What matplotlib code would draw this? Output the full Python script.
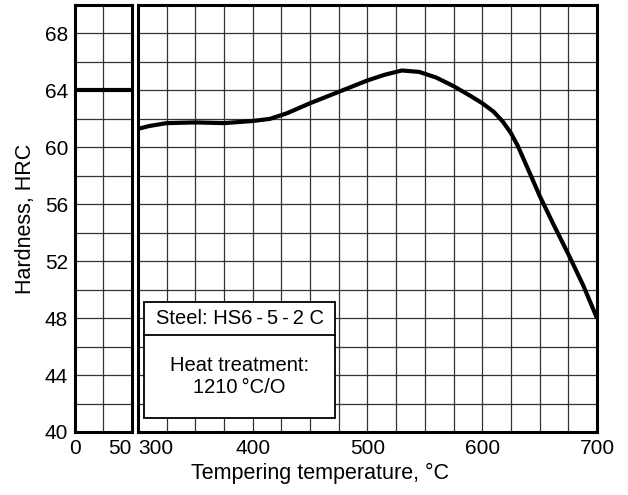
import matplotlib.pyplot as plt
from matplotlib.patches import Rectangle
import numpy as np

plt.rcParams['font.family'] = ['Liberation Sans', 'DejaVu Sans']

# tempering curve
temp = [300, 310, 325, 350, 375, 400, 415, 430, 450, 475, 500, 515, 530, 545, 560, 575, 590, 600, 610, 618, 625, 631, 637, 643, 650, 662, 675, 688, 700]
hrc = [61.3, 61.5, 61.7, 61.75, 61.7, 61.85, 62.0, 62.4, 63.1, 63.9, 64.7, 65.1, 65.4, 65.3, 64.9, 64.3, 63.6, 63.1, 62.5, 61.8, 61.0, 60.1, 59.0, 57.9, 56.6, 54.6, 52.5, 50.3, 48.0]

# hardness after hardening (left panel)
quench_x = [0, 50]
quench_y = [64, 64]

yticks = [40, 44, 48, 52, 56, 60, 64, 68]

fig = plt.figure(figsize=(6.28, 4.95), dpi=100)
ax1 = fig.add_axes([0.1194, 0.1273, 0.0908, 0.8626])
ax2 = fig.add_axes([0.2197, 0.1273, 0.7309, 0.8626])

grid_kw = dict(color='#333333', lw=0.9)
for ax in (ax1, ax2):
    ax.set_ylim(40, 70)
    ax.set_yticks(np.arange(40, 71, 2))
    ax.grid(True, **grid_kw)
    ax.tick_params(length=0, labelsize=15, pad=5)
    for s in ax.spines.values():
        s.set_linewidth(2.2)
    ax.set_axisbelow(True)

ax1.set_xlim(0, 50)
ax1.set_xticks([0, 25, 50])
lbl1 = ax1.set_xticklabels(['0', '', '50'])
lbl1[2].set_ha('right')
ax1.set_yticklabels([str(v) if v in yticks else '' for v in range(40, 71, 2)])
ax1.plot(quench_x, quench_y, color='black', lw=3, solid_capstyle='butt', clip_on=False)
ax1.set_ylabel('Hardness, HRC', fontsize=15.5, labelpad=6)

ax2.set_xlim(300, 700)
ax2.set_xticks(np.arange(300, 701, 25))
lbl2 = ax2.set_xticklabels([str(v) if v % 100 == 0 else '' for v in range(300, 701, 25)])
lbl2[0].set_ha('left')
ax2.set_yticklabels([])
ax2.plot(temp, hrc, color='black', lw=3, solid_capstyle='butt')

# info box
ax2.add_patch(Rectangle((305, 41.0), 167, 8.1, facecolor='white', edgecolor='black', lw=1.3, zorder=5))
ax2.plot([305, 472], [46.8, 46.8], color='black', lw=1.3, zorder=6)
ax2.text(388.5, 47.95, 'Steel: HS6\u2009-\u20095\u2009-\u20092 C', ha='center', va='center', fontsize=14.5, zorder=7)
ax2.text(388.5, 43.9, 'Heat treatment:\n1210\u2009°C/O', ha='center', va='center', fontsize=14.5, linespacing=1.15, zorder=7)

fig.text(0.51, 0.044, 'Tempering temperature, °C', ha='center', va='center', fontsize=15.5)

fig.savefig('out.png', dpi=100)
